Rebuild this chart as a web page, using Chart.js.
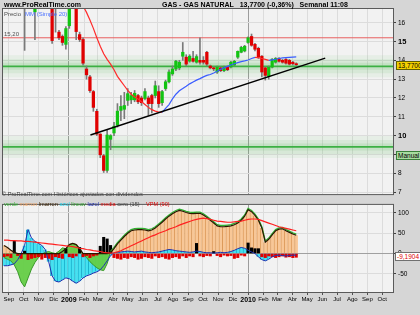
<!DOCTYPE html>
<html>
<head>
<meta charset="utf-8">
<script src="https://cdn.jsdelivr.net/npm/chart.js@4.4.0/dist/chart.umd.min.js"></script>
<style>
  body { margin: 0; background: #d6d6d6; }
  #wrap { position: relative; width: 420px; height: 315px; overflow: hidden; background: #d6d6d6;
          font-family: "Liberation Sans", Arial, sans-serif; }
  .t { position: absolute; white-space: nowrap; line-height: 1; z-index: 5; }
  #c1 { position: absolute; left: 0; top: 0; }
  #c2 { position: absolute; left: 0; top: 199px; }
  .box { position: absolute; z-index: 6; font-size: 6.5px; line-height: 7px; padding: 0 1px; white-space: nowrap; }
</style>
</head>
<body>
<div id="wrap">
  <canvas id="c1" width="420" height="200"></canvas>
  <canvas id="c2" width="420" height="116"></canvas>

  <div class="t" style="left:4px;top:1px;font-size:7px;font-weight:bold;">www.ProRealTime.com</div>
  <div class="t" style="left:162px;top:1px;font-size:7px;font-weight:bold;">GAS - GAS NATURAL&nbsp;&nbsp; 13,7700 (-0,36%)&nbsp;&nbsp; Semanal 11:08</div>

  <div class="t" style="left:4px;top:11px;font-size:6px;color:#505050;">Precio</div>
  <div class="t" style="left:25px;top:11px;font-size:6px;color:#4a70ff;">MM (Simple 20)</div>
  <div class="t" style="left:4px;top:31px;font-size:6px;color:#505050;">15,20</div>
  <div class="t" style="left:2px;top:192px;font-size:5.6px;color:#404040;">© ProRealTime.com Históricos ajustados con dividendos</div>

  <div class="t" style="left:4px;top:202px;font-size:5.6px;">
    <span style="color:#30b030">verde</span>
    <span style="color:#f0a060">marron</span>
    <span style="color:#3a2000">lmarron</span>
    <span style="color:#20d0e8">azul</span>
    <span style="color:#30a030">lineav</span>
    <span style="color:#2030b0">lazul</span>
    <span style="color:#e00000">media</span>
    <span style="color:#404040">cero (15)</span>
  </div>
  <div class="t" style="left:146px;top:202px;font-size:5.6px;color:#e00000;">VPM (90)</div>

  <div class="box" style="left:396px;top:61px;background:#f4d000;border:1px solid #606000;">13,7700</div>
  <div class="box" style="left:396px;top:151px;background:#a8dca0;border:1px solid #3a803a;">Manual</div>
  <div class="box" style="left:395px;top:252px;background:#ffffff;color:#e00000;border:1px solid #707070;">-9,1904</div>
</div>

<script>
// weekly bars, first one dated weekStart
const weekStart = '2008-08-22';
const opens = [
  18.4, 18.9, 18.3, 17.8, 18.1, 17.3, 17.6, 17.1, 17.5, 16.58,
  17.8, 18.2, 17.9, 17.6, 17.6, 17.2, 15.5, 15.27, 14.85, 15.84,
  17.2, 17.6, 15.37, 15.11, 13.54, 13.12, 12.34, 11.29, 10.08, 8.93,
  8.15, 9.8, 10.14, 10.55, 11.34, 11.4, 11.87, 11.9, 11.9, 12.13,
  12.0, 11.97, 12.0, 12.13, 12.13, 12.34, 11.75, 12.5, 12.86, 13.28,
  13.54, 13.6, 14.22, 14.17, 13.96, 14.1, 13.9, 14.0, 14.0, 14.43,
  13.7, 13.6, 13.38, 13.6, 13.45, 13.65, 13.65, 13.75, 14.17, 14.43,
  14.5, 14.95, 15.27, 14.85, 14.64, 14.22, 13.6, 13.15, 13.64, 13.9,
  14.1, 14.0, 14.05, 14.0, 13.9, 13.82
];
const highs = [
  19.2, 19.5, 18.8, 18.5, 18.6, 17.9, 18.0, 17.8, 18.4, 18.2,
  18.6, 18.9, 18.4, 18.3, 17.9, 17.5, 15.6, 15.35, 15.8, 17.3,
  17.6, 17.8, 15.5, 15.2, 13.7, 13.2, 12.4, 11.4, 10.1, 9.0,
  10.3, 10.05, 10.7, 11.7, 12.13, 12.3, 12.5, 12.3, 12.4, 12.2,
  12.1, 12.5, 12.1, 12.2, 12.9, 12.65, 12.4, 12.95, 13.5, 13.7,
  14.0, 14.0, 14.95, 14.3, 14.3, 14.48, 14.3, 15.2, 14.2, 14.48,
  13.75, 13.65, 13.7, 13.65, 13.7, 13.7, 13.95, 14.0, 14.5, 14.75,
  14.8, 15.25, 15.4, 14.9, 14.7, 14.25, 13.64, 13.7, 14.1, 14.15,
  14.15, 14.05, 14.1, 14.05, 13.95, 13.87
];
const lows = [
  17.9, 18.0, 17.4, 17.2, 17.0, 16.9, 14.53, 16.9, 17.0, 15.1,
  17.3, 17.6, 17.2, 17.0, 14.9, 15.5, 15.1, 14.8, 14.6, 15.7,
  16.8, 15.1, 15.0, 13.75, 13.0, 12.3, 11.29, 10.0, 8.83, 8.04,
  8.04, 9.25, 10.0, 10.45, 10.8, 10.9, 11.6, 11.7, 11.8, 11.7,
  11.6, 11.9, 11.08, 11.2, 12.0, 11.5, 11.6, 12.4, 12.8, 13.2,
  13.45, 13.5, 14.0, 13.7, 13.9, 13.9, 13.85, 13.8, 13.8, 13.7,
  13.55, 13.45, 13.3, 13.4, 13.4, 13.45, 13.6, 13.7, 14.1, 14.4,
  14.45, 14.9, 14.75, 14.5, 14.1, 13.12, 12.95, 13.0, 13.6, 13.85,
  13.9, 13.85, 13.8, 13.75, 13.75, 13.72
];
const closes = [
  18.9, 18.3, 17.8, 18.1, 17.3, 17.6, 17.1, 17.5, 17.9, 17.8,
  18.2, 17.9, 17.6, 17.8, 15.05, 16.9, 15.2, 14.95, 15.69, 17.0,
  17.4, 15.53, 15.11, 13.85, 13.23, 12.39, 11.5, 10.08, 8.98, 8.15,
  10.03, 10.0, 10.5, 11.3, 11.55, 11.6, 12.23, 12.13, 12.25, 11.8,
  11.75, 12.34, 11.7, 11.7, 12.65, 11.7, 12.34, 12.86, 13.38, 13.54,
  13.96, 13.9, 14.43, 13.8, 14.22, 13.95, 14.2, 13.9, 13.9, 13.8,
  13.6, 13.55, 13.65, 13.45, 13.65, 13.5, 13.9, 13.95, 14.48, 14.69,
  14.75, 15.2, 14.8, 14.59, 14.17, 13.38, 13.2, 13.64, 14.06, 14.1,
  13.95, 13.9, 13.85, 13.8, 13.82, 13.77
];
// MM (Simple 20)
const mm20 = [
  null, null, null, null, null, null, null, null, null, null,
  null, null, null, null, null, null, null, null, null, null,
  null, null, null, 16.9, 16.55, 16.15, 15.7, 15.2, 14.75, 14.35,
  14.05, 13.8, 13.5, 13.15, 12.9, 12.65, 12.4, 12.2, 12.05, 11.95,
  11.8, 11.65, 11.5, 11.38, 11.3, 11.25, 11.24, 11.45, 11.65, 11.95,
  12.2, 12.38, 12.5, 12.62, 12.75, 12.85, 12.95, 13.03, 13.12, 13.2,
  13.25, 13.33, 13.42, 13.52, 13.6, 13.68, 13.75, 13.82, 13.88, 13.93,
  13.97, 14.02, 14.1, 14.16, 14.14, 14.1, 14.05, 14.0, 14.03, 14.06,
  14.1, 14.13, 14.15, 14.16, 14.17, 14.18
];
const trendDates = ['2009-02-14', '2010-06-07'];
const trendPrices = [10.03, 14.12];
const resistance = 15.20;
const supports = [13.68, 9.40];
const priceTicks = [7, 8, 9, 10, 11, 12, 13, 14, 15, 16];

// lower indicator panel
const verde = [
  -10, -14, -18, -28, -45, -70, -82, -60, -38, -22,
  -10, -2, 3, 5, 2, 0, 6, 14, 12, 22,
  25, 22, 12, 0, -10, -20, -28, -35, -40, -42,
  -25, 5, 15, 27, 36, 45, 53, 59, 61, 62,
  62, 61, 59, 61, 66, 73, 80, 88, 95, 101,
  106, 109, 107, 104, 102, 101, 102, 102, 98, 92,
  85, 78, 71, 69, 69, 70, 71, 74, 78, 85,
  95, 111, 106, 97, 85, 66, 31, 38, 49, 59,
  63, 64, 59, 55, 51, 48
];
const marron = [
  20, 15, 8, 3, 0, 0, 0, 0, 0, 0,
  0, 0, 0, 0, 0, 0, 0, 5, 12, 22,
  25, 22, 12, 0, 0, 0, 0, 0, 0, 0,
  0, 2, 12, 24, 33, 42, 50, 56, 58, 59,
  59, 58, 56, 58, 63, 70, 77, 85, 92, 98,
  103, 106, 104, 101, 99, 98, 99, 99, 95, 89,
  82, 75, 68, 66, 66, 67, 68, 71, 75, 82,
  92, 108, 103, 94, 82, 63, 28, 35, 46, 56,
  60, 61, 56, 52, 48, 45
];
const azul = [
  -30, -30, -28, -25, -15, 0, 20, 59, 38, 30,
  25, 20, 10, -20, -55, -68, -70, -65, -60, -62,
  -68, -73, -68, -60, -55, -52, -48, -45, -40, -30,
  -18, -5, 2, 3, 4, 5, 6, 5, 4, 5,
  6, 4, 3, 2, 3, 4, 6, 8, 10, 9,
  7, 6, 5, 4, 3, 4, 6, 5, 3, 2,
  2, 1, 2, 3, 2, 3, 5, 8, 12, 15,
  13, 8, 4, 0, -8, -15, -18, -14, -8, -5,
  -4, -5, -6, -5, -4, -4
];
const media = [
  33, 33, 32, 32, 31, 31, 30, 30, 29, 28,
  27, 26, 25, 24, 23, 22, 21, 20, 19, 18,
  17, 15, 13, 12, 10, 9, 7, 6, 5, 3,
  2, 1, 2, 4, 7, 11, 15, 19, 23, 27,
  31, 35, 39, 43, 46, 50, 53, 56, 60, 63,
  66, 70, 73, 76, 79, 82, 84, 86, 87, 86,
  84, 82, 80, 79, 78, 77, 77, 78, 79, 80,
  82, 84, 85, 85, 84, 81, 78, 75, 72, 69,
  66, 64, 62, 60, 58, 56
];
const vpm = [
  -8, -6, -10, 30, -5, -12, 6, -15, -12, -10,
  -8, -14, -10, -12, -15, -8, -10, -12, 12, -8,
  -10, -6, 15, -8, -5, -10, -6, -4, 18, 40,
  36, 20, -10, -12, -14, -10, -12, -8, -10, -14,
  -12, -8, -10, -12, -6, -10, -8, -12, -14, -10,
  -8, -12, -6, -10, -6, -8, 25, -6, -8, -5,
  -6, 5, -5, -8, -4, -6, -5, -12, -10, -4,
  -6, 26, 14, 12, 12, -8, -10, -6, -8, -10,
  -8, -6, -9, -8, -10, -9.19
];
const indTicks = [-50, 0, 50, 100];

const monthLabels = ['Sep', 'Oct', 'Nov', 'Dic', '2009', 'Feb', 'Mar', 'Abr', 'May', 'Jun', 'Jul', 'Ago',
  'Sep', 'Oct', 'Nov', 'Dic', '2010', 'Feb', 'Mar', 'Abr', 'May', 'Jun', 'Jul', 'Ago', 'Sep', 'Oct'];
const viewFrom = '2008-08-20';
const viewTo = '2010-10-23';

// x values are days counted from 1 Jan 2010
const DAY = 86400000;
const zero = Date.UTC(2010, 0, 1);
const dayOf = s => (Date.parse(s + 'T00:00:00Z') - zero) / DAY;
const weekX = i => dayOf(weekStart) + 7 * i;
const monthX = monthLabels.map((_, k) => (Date.UTC(2008, 8 + k, 1) - zero) / DAY);
const isYear = i => /^\d{4}$/.test(monthLabels[i] || '');
const tickVal = c => (c.tick ? c.tick.value : NaN);

const frame = {
  id: 'frame',
  beforeDraw(chart) {
    const { ctx, chartArea: a } = chart;
    ctx.save();
    ctx.fillStyle = '#f2f2f2';
    ctx.fillRect(a.left, a.top, a.width, a.height);
    ctx.restore();
  },
  afterDraw(chart) {
    const { ctx, chartArea: a } = chart;
    ctx.save();
    ctx.strokeStyle = '#5a5a5a';
    ctx.lineWidth = 1;
    ctx.strokeRect(a.left - 0.5, a.top - 0.5, a.width + 1, a.height + 1);
    ctx.restore();
  }
};

const xScale = (showLabels) => ({
  type: 'linear',
  min: dayOf(viewFrom),
  max: dayOf(viewTo),
  offset: false,
  afterBuildTicks: s => { s.ticks = monthX.map(v => ({ value: v })); },
  afterFit: s => { s.height = showLabels ? 23 : 0; },
  border: { display: false },
  grid: {
    offset: false,
    color: c => isYear(c.index) ? '#9c9c9c' : '#dcdcdc',
    tickColor: '#505050',
    tickLength: 3,
    drawTicks: showLabels
  },
  ticks: {
    display: showLabels,
    autoSkip: false,
    maxRotation: 0,
    padding: 1,
    color: '#000',
    font: c => ({ family: 'Liberation Sans', size: isYear(c.index) ? 7 : 6, weight: isYear(c.index) ? 'bold' : 'normal' }),
    callback: (v, i) => monthLabels[i]
  }
});

const xs = opens.map((_, i) => weekX(i));
const hLine = y => [{ x: dayOf(viewFrom), y }, { x: dayOf(viewTo), y }];
const glow = (y, w, a) => ({
  type: 'line', data: hLine(y), borderColor: `rgba(90,190,90,${a})`, borderWidth: w,
  pointRadius: 0, clip: 0, order: 20
});

const mainDatasets = [];
supports.forEach(y => {
  mainDatasets.push(glow(y, 22, 0.08), glow(y, 14, 0.10), glow(y, 7, 0.14));
  mainDatasets.push({ type: 'line', data: hLine(y), borderColor: '#3cb043', borderWidth: 1.6, pointRadius: 0, clip: 0, order: 15 });
});
mainDatasets.push(
  { type: 'line', data: hLine(resistance), borderColor: '#e86060', borderWidth: 1, pointRadius: 0, clip: 0, order: 14 },
  { type: 'bar', data: xs.map((x, i) => ({ x, y: [lows[i], highs[i]] })), backgroundColor: '#7a7a7a',
    barThickness: 1, grouped: false, clip: 0, order: 6 },
  { type: 'bar', data: xs.map((x, i) => ({ x, y: [opens[i], closes[i]] })),
    backgroundColor: opens.map((o, i) => closes[i] >= o ? '#12c412' : '#e00000'),
    barThickness: 2.6, minBarLength: 1, grouped: false, clip: 0, order: 5 },
  { type: 'line', data: xs.map((x, i) => ({ x, y: mm20[i] })), borderWidth: 1.2, pointRadius: 0, clip: 0, order: 3,
    segment: { borderColor: c => c.p1.parsed.y > c.p0.parsed.y ? '#3a5cff' : '#ff2a2a' } },
  { type: 'line', data: trendDates.map((d, k) => ({ x: dayOf(d), y: trendPrices[k] })), borderColor: '#000',
    borderWidth: 1.4, pointRadius: 0, clip: 0, order: 2 }
);

new Chart(document.getElementById('c1'), {
  type: 'line',
  data: { datasets: mainDatasets },
  options: {
    responsive: false, animation: false,
    layout: { padding: { left: 3, top: 9, right: 0, bottom: 3 } },
    plugins: { legend: { display: false }, tooltip: { enabled: false } },
    scales: {
      x: xScale(false),
      y: {
        position: 'right', min: 6.89, max: 16.73,
        afterBuildTicks: s => { s.ticks = priceTicks.map(v => ({ value: v })); },
        afterFit: s => { s.width = 27; },
        border: { display: false },
        grid: { color: '#dcdcdc', tickColor: '#404040', tickLength: 3 },
        ticks: {
          padding: 2, color: '#000',
          font: c => {
            const big = tickVal(c) % 5 === 0;
            return { family: 'Liberation Sans', size: big ? 7.5 : 6.5, weight: big ? 'bold' : 'normal' };
          }
        }
      }
    }
  },
  plugins: [frame]
});

const verdeA = verde.map((v, i) => i <= 31 ? v : null);
const verdeB = verde.map((v, i) => i >= 31 ? v : null);

new Chart(document.getElementById('c2'), {
  type: 'line',
  data: {
    datasets: [
      { type: 'line', data: xs.map((x, i) => ({ x, y: media[i] })), borderColor: '#ff2020', borderWidth: 1.2, pointRadius: 0, clip: 0, order: 0 },
      { type: 'line', data: xs.map((x, i) => ({ x, y: marron[i] })), borderColor: '#2a1800', borderWidth: 1.2, pointRadius: 0, clip: 0, order: 1 },
      { type: 'line', data: xs.map((x, i) => ({ x, y: verdeB[i] })), borderColor: '#30b030', borderWidth: 1.3, pointRadius: 0, clip: 0, order: 2 },
      { type: 'line', data: xs.map((x, i) => ({ x, y: azul[i] })), borderColor: '#2030b0', borderWidth: 1, pointRadius: 0, clip: 0, order: 1 },
      { type: 'bar', data: xs.map((x, i) => ({ x, y: vpm[i] })), backgroundColor: vpm.map(v => v >= 0 ? '#000' : '#e00000'),
        barThickness: 2.4, grouped: false, clip: 0, order: 3 },
      { type: 'line', data: xs.map((x, i) => ({ x, y: verdeA[i] })), borderColor: '#3a9a2a', backgroundColor: 'rgba(100,205,70,0.95)',
        fill: 'origin', borderWidth: 1, pointRadius: 0, clip: 0, order: 4 },
      { type: 'bar', data: xs.map((x, i) => ({ x, y: azul[i] })), backgroundColor: '#44e2f2', borderColor: '#18aecb',
        borderWidth: { left: 1, right: 0, top: 0, bottom: 0 }, barThickness: 3.4, grouped: false, clip: 0, order: 5 },
      { type: 'bar', data: xs.map((x, i) => ({ x, y: marron[i] })), backgroundColor: '#f8c797', borderColor: '#dc9a5a',
        borderWidth: { left: 1, right: 0, top: 0, bottom: 0 }, barThickness: 3.4, grouped: false, clip: 0, order: 6 }
    ]
  },
  options: {
    responsive: false, animation: false,
    layout: { padding: { left: 3, top: 2, right: 0, bottom: 0 } },
    plugins: { legend: { display: false }, tooltip: { enabled: false } },
    scales: {
      x: xScale(true),
      y: {
        position: 'right', min: -94.6, max: 119.7,
        afterBuildTicks: s => { s.ticks = indTicks.map(v => ({ value: v })); },
        afterFit: s => { s.width = 27; },
        border: { display: false },
        grid: { color: c => tickVal(c) === 0 ? '#a0a0a0' : '#dcdcdc', tickColor: '#404040', tickLength: 3 },
        ticks: { padding: 2, color: '#000', font: { family: 'Liberation Sans', size: 6.5 } }
      }
    }
  },
  plugins: [frame]
});
</script>
</body>
</html>
